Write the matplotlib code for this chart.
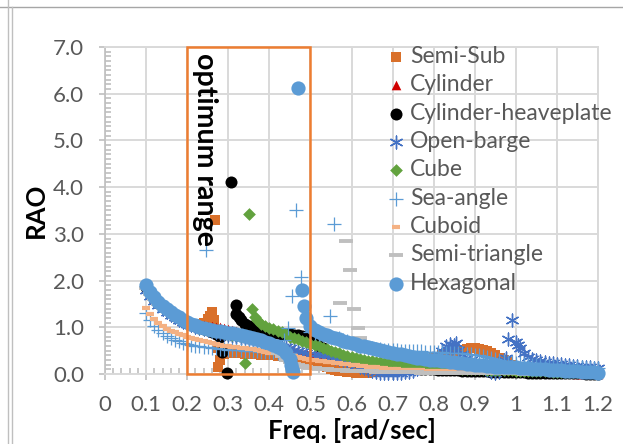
import numpy as np
import matplotlib
matplotlib.use("Agg")
import matplotlib.pyplot as plt
from matplotlib.patches import Rectangle
from matplotlib.lines import Line2D
from matplotlib.ticker import MultipleLocator, FixedLocator

nan = np.nan

# frequency grid of the sampled RAO curves [rad/s]
freq = np.round(np.arange(0.10, 1.2001, 0.01), 2)

# --- series values (one row = 0.1 rad/s) ---
semi_sub = [
    1.88, 1.75, 1.63, 1.53, 1.45, 1.38, 1.31, 1.25, 1.19, 1.14,
    1.10, 1.07, 1.05, 1.06, 1.10, 1.18, 1.32, nan, 0.30, 0.42,
    0.45, 0.45, 0.44, 0.44, 0.43, 0.43, 0.42, 0.42, 0.41, 0.41,
    0.40, 0.40, 0.39, 0.38, 0.37, 0.36, 0.35, 0.34, 0.32, 0.30,
    0.28, 0.25, 0.22, 0.18, 0.14, 0.11, 0.09, 0.07, 0.06, 0.05,
    0.04, 0.03, 0.03, 0.03, 0.03, 0.04, 0.04, 0.05, 0.06, 0.07,
    0.08, 0.10, 0.12, 0.14, 0.16, 0.19, 0.22, 0.25, 0.28, 0.31,
    0.34, 0.37, 0.40, 0.43, 0.46, 0.48, 0.50, 0.52, 0.54, 0.55,
    0.55, 0.54, 0.52, 0.49, 0.45, 0.40, 0.35, 0.30, 0.25, 0.20,
    0.16, 0.13, 0.11, 0.10, 0.09, 0.08, 0.07, 0.06, 0.06, 0.05,
    0.05, 0.04, 0.04, 0.03, 0.03, 0.03, 0.02, 0.02, 0.02, 0.02,
    0.02]
semi_sub_x_extra = [0.255, 0.265, 0.267, 0.272, 0.276]
semi_sub_y_extra = [1.25, 1.15, 3.30, 0.55, 0.15]

cylinder = [
    1.86, 1.73, 1.61, 1.51, 1.43, 1.36, 1.30, 1.24, 1.19, 1.15,
    1.11, 1.08, 1.06, 1.05, 1.04, 1.03, 1.02, 1.01, 1.00, 0.99,
    0.97, 0.95, 0.92, 0.89, 0.86, 0.83, 0.80, 0.77, 0.74, 0.71,
    0.68, 0.65, 0.62, 0.59, 0.56, 0.53, 0.50, 0.48, 0.46, 0.45,
    0.44, 0.43, 0.42, 0.41, 0.40, 0.39, 0.38, 0.37, 0.36, 0.35,
    0.34, 0.33, 0.32, 0.31, 0.30, 0.29, 0.28, 0.27, 0.26, 0.25,
    0.24, 0.23, 0.22, 0.21, 0.20, 0.19, 0.18, 0.17, 0.17, 0.16,
    0.15, 0.15, 0.14, 0.13, 0.13, 0.12, 0.12, 0.11, 0.11, 0.10,
    0.10, 0.09, 0.09, 0.08, 0.08, 0.07, 0.07, 0.06, 0.06, 0.06,
    0.05, 0.05, 0.05, 0.04, 0.04, 0.04, 0.03, 0.03, 0.03, 0.03,
    0.02, 0.02, 0.02, 0.02, 0.02, 0.01, 0.01, 0.01, 0.01, 0.01,
    0.01]

heaveplate = [
    1.87, 1.74, 1.62, 1.52, 1.44, 1.37, 1.30, 1.24, 1.19, 1.14,
    1.10, 1.06, 1.03, 1.00, 0.97, 0.94, 0.90, 0.86, 0.80, nan,
    nan, nan, 1.28, 1.15, 1.08, 1.03, 0.99, 0.96, 0.93, 0.91,
    0.89, 0.88, 0.87, 0.86, 0.86, 0.85, 0.84, 0.83, 0.82, 0.80,
    0.72, 0.66, 0.60, 0.55, 0.50, 0.46, 0.42, 0.39, 0.36, 0.33,
    0.30, 0.28, 0.26, 0.24, 0.22, 0.21, 0.20, 0.19, 0.18, 0.17,
    0.16, 0.15, 0.14, 0.14, 0.13, 0.12, 0.12, 0.11, 0.11, 0.10,
    0.10, 0.09, 0.09, 0.09, 0.08, 0.08, 0.08, 0.07, 0.07, 0.07,
    0.06, 0.06, 0.06, 0.06, 0.05, 0.05, 0.05, 0.05, 0.04, 0.04,
    0.04, 0.04, 0.04, 0.03, 0.03, 0.03, 0.03, 0.03, 0.03, 0.02,
    0.02, 0.02, 0.02, 0.02, 0.02, 0.02, 0.02, 0.01, 0.01, 0.01,
    0.01]
heaveplate_x_extra = [0.286, 0.298, 0.307, 0.318, 0.325]
heaveplate_y_extra = [0.47, 0.02, 4.12, 1.48, 1.22]

open_barge = [
    1.80, 1.68, 1.57, 1.48, 1.40, 1.33, 1.27, 1.21, 1.16, 1.12,
    1.08, 1.04, 1.01, 0.98, 0.96, 0.94, 0.92, 0.90, 0.88, 0.86,
    0.84, 0.82, 0.80, 0.78, 0.76, 0.74, 0.72, 0.70, 0.68, 0.66,
    0.64, 0.62, 0.60, 0.58, 0.57, 0.55, 0.52, 0.49, 0.47, 0.45,
    0.43, 0.42, 0.41, 0.40, 0.39, 0.37, 0.35, 0.33, 0.30, 0.27,
    0.24, 0.20, 0.16, 0.12, 0.09, 0.06, 0.04, 0.03, 0.02, 0.02,
    0.02, 0.02, 0.03, 0.04, 0.05, 0.07, 0.10, 0.14, 0.19, 0.25,
    0.32, 0.40, 0.50, 0.60, 0.64, 0.62, 0.52, 0.42, 0.35, 0.29,
    0.24, 0.19, 0.14, 0.09, 0.05, 0.02, 0.04, 0.30, 0.74, 1.15,
    0.68, 0.55, 0.45, 0.36, 0.32, 0.29, 0.27, 0.25, 0.24, 0.23,
    0.22, 0.21, 0.20, 0.19, 0.18, 0.17, 0.16, 0.15, 0.14, 0.13,
    0.12]
open_barge_x_extra = [0.835, 0.845, 0.855, 0.975, 1.005]
open_barge_y_extra = [0.52, 0.55, 0.66, 0.34, 0.62]

cube = [
    1.88, 1.74, 1.62, 1.52, 1.44, 1.37, 1.31, 1.25, 1.20, 1.15,
    1.10, 1.06, 1.02, 0.99, 0.97, 0.95, 0.93, 0.91, 0.89, 0.87,
    0.85, 0.84, 0.83, 0.82, nan, nan, nan, 1.15, 1.08, 1.03,
    0.99, 0.96, 0.93, 0.90, 0.86, 0.80, 0.77, 0.74, 0.71, 0.68,
    0.65, 0.62, 0.59, 0.56, 0.53, 0.50, 0.47, 0.44, 0.41, 0.38,
    0.36, 0.34, 0.32, 0.30, 0.28, 0.27, 0.26, 0.25, 0.24, 0.23,
    0.22, 0.21, 0.20, 0.19, 0.18, 0.18, 0.17, 0.16, 0.16, 0.15,
    0.15, 0.14, 0.14, 0.13, 0.13, 0.12, 0.12, 0.11, 0.11, 0.11,
    0.10, 0.10, 0.10, 0.09, 0.09, 0.09, 0.08, 0.08, 0.08, 0.08,
    0.07, 0.07, 0.07, 0.07, 0.06, 0.06, 0.06, 0.06, 0.06, 0.05,
    0.05, 0.05, 0.05, 0.05, 0.05, 0.04, 0.04, 0.04, 0.04, 0.04,
    0.04]
cube_x_extra = [0.340, 0.351, 0.358, 0.365]
cube_y_extra = [0.23, 3.42, 1.39, 1.22]

sea_angle = [
    1.30, 1.15, 1.03, 0.94, 0.87, 0.82, 0.77, 0.73, 0.70, 0.67,
    0.64, 0.62, 0.60, 0.59, 0.58, 0.57, 0.56, 0.55, 0.54, 0.53,
    0.52, 0.52, 0.51, 0.51, 0.50, 0.50, 0.49, 0.49, 0.48, 0.48,
    0.47, 0.47, 0.46, 0.46, 0.45, 0.45, nan, nan, nan, nan,
    0.90, 0.88, 0.85, 0.83, nan, 0.80, nan, 0.76, 0.73, 0.70,
    0.66, 0.63, 0.60, 0.58, 0.56, 0.55, 0.54, 0.53, 0.52, 0.52,
    0.51, 0.51, 0.50, 0.50, 0.50, 0.49, 0.49, 0.49, 0.48, 0.48,
    0.48, 0.47, 0.47, 0.46, 0.46, 0.45, 0.45, 0.44, 0.43, 0.42,
    0.41, 0.40, 0.38, 0.36, 0.34, 0.32, 0.30, 0.28, 0.26, 0.25,
    0.24, 0.23, 0.22, 0.21, 0.20, 0.20, 0.19, 0.18, 0.18, 0.17,
    0.17, 0.16, 0.16, 0.15, 0.15, 0.14, 0.14, 0.13, 0.13, 0.12,
    0.12]
sea_angle_x_extra = [0.247, 0.436, 0.446, 0.455, 0.465, 0.477, 0.547, 0.557]
sea_angle_y_extra = [2.65, 0.73, 0.98, 1.67, 3.51, 2.08, 1.25, 3.21]

cuboid = [
    1.42, 1.28, 1.17, 1.09, 1.02, 0.97, 0.93, 0.89, 0.86, 0.83,
    0.80, 0.77, 0.75, 0.73, 0.71, 0.69, 0.67, 0.65, 0.63, 0.61,
    0.59, 0.58, 0.57, 0.56, 0.55, 0.54, 0.53, 0.52, 0.50, 0.48,
    0.46, 0.45, 0.44, 0.43, 0.42, 0.41, 0.39, 0.37, 0.35, 0.33,
    0.31, 0.29, 0.28, 0.27, 0.26, 0.25, 0.24, 0.23, 0.22, 0.21,
    0.20, 0.19, 0.18, 0.17, 0.16, 0.15, 0.14, 0.13, 0.12, 0.11,
    0.10, 0.10, 0.09, 0.09, 0.09, 0.08, 0.08, 0.08, 0.07, 0.07,
    0.07, 0.07, 0.06, 0.06, 0.06, 0.06, 0.05, 0.05, 0.05, 0.05,
    0.05, 0.04, 0.04, 0.04, 0.04, 0.04, 0.04, 0.03, 0.03, 0.03,
    0.03, 0.03, 0.03, 0.03, 0.03, 0.02, 0.02, 0.02, 0.02, 0.02,
    0.02, 0.02, 0.02, 0.02, 0.02, 0.02, 0.02, 0.01, 0.01, 0.01,
    0.01]

semi_triangle = [
    1.85, 1.72, 1.60, 1.50, 1.42, 1.35, 1.29, 1.23, 1.18, 1.13,
    1.09, 1.05, 1.02, 0.99, 0.97, 0.95, 0.93, 0.91, 0.89, 0.88,
    0.86, 0.85, 0.83, 0.82, 0.80, 0.78, 0.76, 0.73, 0.70, 0.66,
    0.62, 0.55, 0.46, 0.38, 0.31, 0.26, 0.22, 0.19, 0.17, 0.15,
    0.13, 0.12, 0.11, 0.10, 0.10, 0.09, 0.09, 0.08, 0.08, 0.07,
    0.07, 0.07, 0.06, 0.06, 0.06, 0.06, 0.05, 0.05, 0.05, 0.05,
    0.05, 0.04, 0.04, 0.04, 0.04, 0.04, 0.04, 0.03, 0.03, 0.03,
    0.03, 0.03, 0.03, 0.03, 0.03, 0.03, 0.02, 0.02, 0.02, 0.02,
    0.02, 0.02, 0.02, 0.02, 0.02, 0.02, 0.02, 0.02, 0.02, 0.02,
    0.02, 0.02, 0.01, 0.01, 0.01, 0.01, 0.01, 0.01, 0.01, 0.01,
    0.01, 0.01, 0.01, 0.01, 0.01, 0.01, 0.01, 0.01, 0.01, 0.01,
    0.01]
semi_triangle_x_extra = [0.571, 0.586, 0.596, 0.605, 0.615, 0.620]
semi_triangle_y_extra = [1.51, 2.85, 2.22, 1.39, 0.98, 0.78]

hexagonal = [
    1.90, 1.76, 1.64, 1.54, 1.46, 1.39, 1.32, 1.26, 1.21, 1.16,
    1.11, 1.07, 1.04, 1.01, 0.99, 0.97, 0.95, 0.93, 0.91, 0.90,
    0.88, 0.87, 0.85, 0.84, 0.82, 0.80, 0.78, 0.75, 0.72, 0.69,
    0.66, 0.62, 0.58, 0.53, 0.46, 0.32, nan, 6.12, 1.80, 1.20,
    1.02, 0.95, 0.90, 0.86, 0.83, 0.80, 0.77, 0.74, 0.71, 0.69,
    0.66, 0.64, 0.61, 0.59, 0.57, 0.55, 0.53, 0.51, 0.49, 0.47,
    0.45, 0.43, 0.42, 0.40, 0.38, 0.37, 0.35, 0.34, 0.32, 0.31,
    0.30, 0.29, 0.28, 0.27, 0.26, 0.25, 0.24, 0.23, 0.22, 0.21,
    0.20, 0.19, 0.19, 0.18, 0.17, 0.16, 0.16, 0.15, 0.15, 0.14,
    0.14, 0.13, 0.13, 0.12, 0.11, 0.11, 0.10, 0.10, 0.09, 0.09,
    0.08, 0.08, 0.07, 0.07, 0.06, 0.06, 0.05, 0.05, 0.04, 0.04,
    0.03]
hexagonal_x_extra = [0.452, 0.455, 0.458, 0.485]
hexagonal_y_extra = [0.20, 0.10, 0.04, 1.45]

x_ticks = [0, 0.1, 0.2, 0.3, 0.4, 0.5, 0.6, 0.7, 0.8, 0.9, 1.0, 1.1, 1.2]
x_tick_labels = ['0', '0.1', '0.2', '0.3', '0.4', '0.5', '0.6', '0.7',
                 '0.8', '0.9', '1', '1.1', '1.2']
y_ticks = [0, 1, 2, 3, 4, 5, 6, 7]
y_tick_labels = ['0.0', '1.0', '2.0', '3.0', '4.0', '5.0', '6.0', '7.0']

plt.rcParams['font.family'] = ['Lato', 'DejaVu Sans']

W, H = 623, 444
fig = plt.figure(figsize=(W / 100, H / 100), dpi=100)
ax = fig.add_axes([105 / W, 1 - 374 / H, 493 / W, 327 / H])


def pts(main, x_extra=(), y_extra=()):
    x = np.concatenate([freq, np.asarray(x_extra, float)])
    y = np.concatenate([np.asarray(main, float), np.asarray(y_extra, float)])
    keep = ~np.isnan(y)
    return x[keep], y[keep]


series = [
    ('Semi-Sub', pts(semi_sub, semi_sub_x_extra, semi_sub_y_extra),
     dict(marker='s', s=55, c='#D9702A', linewidths=0)),
    ('Cylinder', pts(cylinder),
     dict(marker='^', s=48, c='#D00000', linewidths=0)),
    ('Cylinder-heaveplate', pts(heaveplate, heaveplate_x_extra, heaveplate_y_extra),
     dict(marker='o', s=75, c='black', linewidths=0)),
    ('Open-barge', pts(open_barge, open_barge_x_extra, open_barge_y_extra),
     dict(marker=(6, 2, 0), s=85, c='#4472C4', linewidths=1.0)),
    ('Cube', pts(cube, cube_x_extra, cube_y_extra),
     dict(marker='D', s=42, c='#62A23E', linewidths=0)),
    ('Sea-angle', pts(sea_angle, sea_angle_x_extra, sea_angle_y_extra),
     dict(marker='+', s=95, c='#5B9BD5', linewidths=0.9)),
    ('Cuboid', pts(cuboid),
     dict(marker='_', s=28, c='#F4B183', linewidths=3)),
    ('Semi-triangle', pts(semi_triangle, semi_triangle_x_extra, semi_triangle_y_extra),
     dict(marker='_', s=90, c='#BFBFBF', linewidths=2.8)),
    ('Hexagonal', pts(hexagonal, hexagonal_x_extra, hexagonal_y_extra),
     dict(marker='o', s=105, c='#5B9BD5', linewidths=0)),
]

for i, (name, (x, y), style) in enumerate(series):
    ax.scatter(x, y, label=name, zorder=3 + i * 0.1, clip_on=False, **style)

ax.set_xlim(0, 1.2)
ax.set_ylim(0, 7)

grid_c = '#D9D9D9'
ax.grid(True, which='major', color=grid_c, lw=1.4, zorder=0)
ax.set_axisbelow(True)
for side in ['top', 'right', 'bottom']:
    ax.spines[side].set_color(grid_c)
    ax.spines[side].set_linewidth(1.4)
ax.spines['left'].set_color('#BFBFBF')
ax.spines['left'].set_linewidth(1.2)

ax.xaxis.set_major_locator(FixedLocator(x_ticks))
ax.set_xticklabels(x_tick_labels)
ax.yaxis.set_major_locator(FixedLocator(y_ticks))
ax.set_yticklabels(y_tick_labels)
ax.xaxis.set_minor_locator(MultipleLocator(0.02))
ax.yaxis.set_minor_locator(MultipleLocator(0.1))
ax.tick_params(which='major', direction='out', length=4, width=1.2,
               color='#BFBFBF', labelcolor='#595959', labelsize=16, pad=11)
ax.tick_params(which='minor', direction='in', length=4, width=1.2,
               color='#BFBFBF')

ax.set_xlabel('Freq. [rad/sec]', fontsize=18.5, fontweight='bold', labelpad=2)
ax.set_ylabel('RAO', fontsize=18.5, fontweight='bold', labelpad=4)

ax.add_patch(Rectangle((0.2, 0), 0.3, 7, fill=False, ec='#ED7D31', lw=1.8,
                       zorder=10, clip_on=False))
ax.text(0.243, 6.88, 'optimum range', rotation=270, ha='center', va='top',
        fontsize=20.5, fontweight='bold', color='black', zorder=11)

leg = ax.legend(loc='upper left', bbox_to_anchor=(391 / W, 1 - 46 / H),
                bbox_transform=fig.transFigure, frameon=False, fontsize=16.5,
                borderpad=0, borderaxespad=0, handlelength=0.44,
                handletextpad=0.4, labelspacing=0.32, scatterpoints=1)
for t in leg.get_texts():
    t.set_color('#595959')
leg.set_zorder(12)

# chart-area border of the original screenshot
for line in [Line2D([0, 1], [1 - 7 / H] * 2, color='#A6A6A6', lw=1),
             Line2D([8 / W] * 2, [0, 1], color='#BFBFBF', lw=1),
             Line2D([12 / W] * 2, [0, 1 - 7 / H], color='#BFBFBF', lw=1)]:
    line.set_transform(fig.transFigure)
    fig.add_artist(line)

fig.savefig('out.png', dpi=100)
